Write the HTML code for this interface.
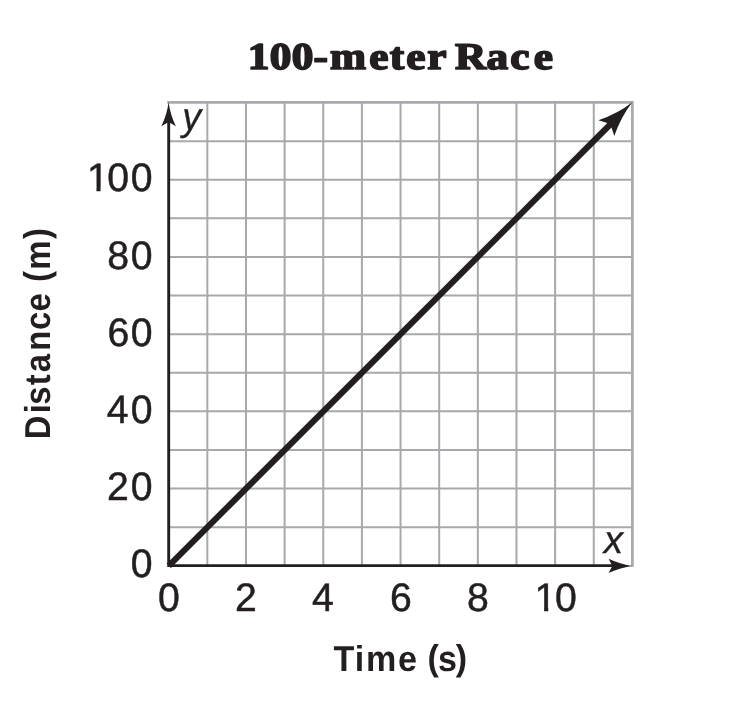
<!DOCTYPE html>
<html lang="en">
<head>
<meta charset="utf-8">
<title>100-meter Race</title>
<style>
html,body{margin:0;padding:0;background:#fff;}
body{width:746px;height:708px;overflow:hidden;}
svg{display:block;}
text{fill:#231f20;stroke:#231f20;stroke-linejoin:round;white-space:pre;text-rendering:geometricPrecision;}
.title{font-family:"Liberation Serif",serif;font-weight:bold;font-size:37.8px;stroke-width:1.7px;}
.num{font-family:"Liberation Sans",sans-serif;font-size:39.8px;stroke-width:0.5px;}
.lab{font-family:"Liberation Sans",sans-serif;font-weight:bold;font-size:36.0px;stroke-width:0px;}
.var{font-family:"Liberation Sans",sans-serif;font-style:italic;font-size:39.2px;stroke-width:0.3px;}
</style>
</head>
<body>
<svg width="746" height="708" viewBox="0 0 746 708">
<rect width="746" height="708" fill="#fff"/>
<path d="M207.34 102.4V565.6M245.98 102.4V565.6M284.62 102.4V565.6M323.27 102.4V565.6M361.91 102.4V565.6M400.55 102.4V565.6M439.19 102.4V565.6M477.83 102.4V565.6M516.47 102.4V565.6M555.12 102.4V565.6M593.76 102.4V565.6M168.7 141.15H632.4M168.7 179.75H632.4M168.7 218.35H632.4M168.7 256.95H632.4M168.7 295.55H632.4M168.7 334.15H632.4M168.7 372.75H632.4M168.7 411.35H632.4M168.7 449.95H632.4M168.7 488.55H632.4M168.7 527.15H632.4" fill="none" stroke="#a7a9ac" stroke-width="2.0"/>
<path d="M167.25 102.4H632.4V566.8" fill="none" stroke="#a7a9ac" stroke-width="2.7" stroke-linejoin="miter"/>
<path d="M168.7 120.4V565.6H614.4" fill="none" stroke="#231f20" stroke-width="2.9" stroke-linejoin="miter" stroke-linecap="square"/>
<path d="M0 0Q-12.2 1.46 -24.4 7.3L-20.2 0L-24.4 -7.3Q-12.2 -1.46 0 0Z" fill="#231f20" transform="translate(168.6 101.9) rotate(-90)"/>
<path d="M0 0Q-12.05 1.43 -24.1 7.15L-20.4 0L-24.1 -7.15Q-12.05 -1.43 0 0Z" fill="#231f20" transform="translate(632.7 565.9) rotate(0)"/>
<path d="M168.75 565.9L611.19 123.51" fill="none" stroke="#231f20" stroke-width="6.1" stroke-linecap="butt"/>
<path d="M0 0Q-18.35 2.24 -36.7 11.2L-31 0L-36.7 -11.2Q-18.35 -2.24 0 0Z" fill="#231f20" transform="translate(632.3 102.2) rotate(-45)"/>
<text class="title" transform="scale(1.1450 1)" x="216.39 235.58 254.8 273.79 288.12 322.49 340.44 354.76 373.16 389.94 397.45 424.88 445.63 466.15" y="69.15 69.15 69.15 69.15 69.15 69.15 69.15 69.15 69.15 69.15 69.15 69.15 69.15 69.15">100-meter Race</text>
<text class="num" transform="scale(0.985 1)" x="132.74" y="577.4">0</text>
<text class="num" transform="scale(0.985 1)" x="108.68 132.74" y="500.2 500.2">20</text>
<text class="num" transform="scale(0.985 1)" x="108.47 132.74" y="423 423">40</text>
<text class="num" transform="scale(0.985 1)" x="109.13 132.74" y="345.8 345.8">60</text>
<text class="num" transform="scale(0.985 1)" x="108.88 132.74" y="268.6 268.6">80</text>
<clipPath id="nofoot1"><path d="M78.93 146.4H171.65V199.4H108V187H100.52V199.4H96.48V187H78.93Z"/></clipPath><g clip-path="url(#nofoot1)"><text class="num" transform="scale(0.985 1)" x="88.25 108.88 132.74" y="191.4 191.4 191.4">100</text></g>
<text class="num" transform="scale(0.985 1)" x="160.3" y="611.1">0</text>
<text class="num" transform="scale(0.985 1)" x="238.56" y="610.8">2</text>
<text class="num" transform="scale(0.985 1)" x="316.81" y="610.8">4</text>
<text class="num" transform="scale(0.985 1)" x="395.93" y="611.1">6</text>
<text class="num" transform="scale(0.985 1)" x="474.14" y="611.1">8</text>
<clipPath id="nofoot2"><path d="M526.59 565.8H595.82V618.8H555V607H548.19V618.8H544.14V607H526.59Z"/></clipPath><g clip-path="url(#nofoot2)"><text class="num" transform="scale(0.985 1)" x="542.73 563.36" y="610.8 611.1">10</text></g>
<text class="lab" transform="scale(0.9465 1)" x="352.32 374.86 386.77 420.61 440.64 451.75 462.69 481.42" y="671 671 671 671 671 669.8 671 669.8">Time (s)</text>
<text class="lab" transform="translate(50.1 0) rotate(-90) scale(0.9122 1)" x="-481.46 -453.13 -443.64 -422.34 -408.16 -384.43 -361.79 -341.61 -321.58 -309.2 -295.7 -261.92" y="0 0 0 0 0 0 0 0 0 -1.2 0 -1.2">Distance (m)</text>
<text class="var" transform="scale(0.9658 1)" x="188.64" y="129.7">y</text>
<text class="var" transform="scale(0.9901 1)" x="609.9" y="553.15">x</text>
</svg>
</body>
</html>
